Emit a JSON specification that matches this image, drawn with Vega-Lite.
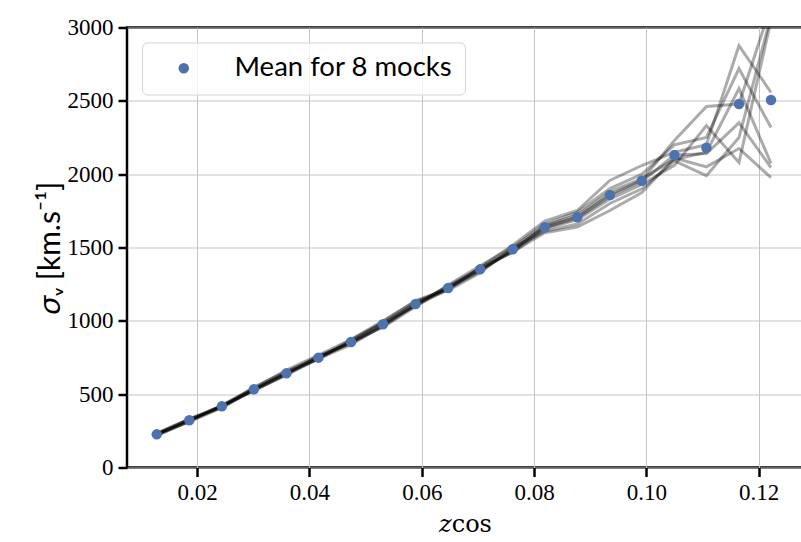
{
  "$schema": "https://vega.github.io/schema/vega-lite/v6.json",
  "width": 676,
  "height": 440,
  "autosize": {"type": "none"},
  "padding": {"left": 127, "top": 27.5, "right": 0, "bottom": 74.5},
  "background": "white",
  "config": {
    "view": {"stroke": "black", "strokeWidth": 2.5},
    "axis": {
      "domain": false,
      "grid": true,
      "gridColor": "#c4c4c4",
      "gridWidth": 1,
      "ticks": true,
      "tickColor": "black",
      "tickWidth": 2.5,
      "tickSize": 9,
      "labelColor": "black",
      "labelFont": "Liberation Serif",
      "labelFontSize": 23,
      "labelPadding": 5,
      "titleColor": "black",
      "titleFontWeight": "normal"
    }
  },
  "datasets": {
    "mocks": [
      {"mock": "1", "z": 0.0128, "sigma": 232}, {"mock": "1", "z": 0.0186, "sigma": 328}, {"mock": "1", "z": 0.0244, "sigma": 412}, {"mock": "1", "z": 0.0301, "sigma": 548}, {"mock": "1", "z": 0.0359, "sigma": 656}, {"mock": "1", "z": 0.0416, "sigma": 744}, {"mock": "1", "z": 0.0474, "sigma": 872}, {"mock": "1", "z": 0.0531, "sigma": 1000}, {"mock": "1", "z": 0.0589, "sigma": 1132}, {"mock": "1", "z": 0.0647, "sigma": 1212}, {"mock": "1", "z": 0.0704, "sigma": 1364}, {"mock": "1", "z": 0.0762, "sigma": 1515}, {"mock": "1", "z": 0.0819, "sigma": 1680}, {"mock": "1", "z": 0.0877, "sigma": 1752}, {"mock": "1", "z": 0.0935, "sigma": 1957}, {"mock": "1", "z": 0.0992, "sigma": 2059}, {"mock": "1", "z": 0.1050, "sigma": 2150}, {"mock": "1", "z": 0.1107, "sigma": 2200}, {"mock": "1", "z": 0.1165, "sigma": 2877}, {"mock": "1", "z": 0.1222, "sigma": 2557},
      {"mock": "2", "z": 0.0128, "sigma": 220}, {"mock": "2", "z": 0.0186, "sigma": 316}, {"mock": "2", "z": 0.0244, "sigma": 426}, {"mock": "2", "z": 0.0301, "sigma": 542}, {"mock": "2", "z": 0.0359, "sigma": 664}, {"mock": "2", "z": 0.0416, "sigma": 766}, {"mock": "2", "z": 0.0474, "sigma": 872}, {"mock": "2", "z": 0.0531, "sigma": 985}, {"mock": "2", "z": 0.0589, "sigma": 1102}, {"mock": "2", "z": 0.0647, "sigma": 1244}, {"mock": "2", "z": 0.0704, "sigma": 1376}, {"mock": "2", "z": 0.0762, "sigma": 1502}, {"mock": "2", "z": 0.0819, "sigma": 1660}, {"mock": "2", "z": 0.0877, "sigma": 1740}, {"mock": "2", "z": 0.0935, "sigma": 1902}, {"mock": "2", "z": 0.0992, "sigma": 2000}, {"mock": "2", "z": 0.1050, "sigma": 2200}, {"mock": "2", "z": 0.1107, "sigma": 2250}, {"mock": "2", "z": 0.1165, "sigma": 2720}, {"mock": "2", "z": 0.1222, "sigma": 2318},
      {"mock": "3", "z": 0.0128, "sigma": 228}, {"mock": "3", "z": 0.0186, "sigma": 320}, {"mock": "3", "z": 0.0244, "sigma": 416}, {"mock": "3", "z": 0.0301, "sigma": 526}, {"mock": "3", "z": 0.0359, "sigma": 634}, {"mock": "3", "z": 0.0416, "sigma": 757}, {"mock": "3", "z": 0.0474, "sigma": 850}, {"mock": "3", "z": 0.0531, "sigma": 970}, {"mock": "3", "z": 0.0589, "sigma": 1122}, {"mock": "3", "z": 0.0647, "sigma": 1230}, {"mock": "3", "z": 0.0704, "sigma": 1343}, {"mock": "3", "z": 0.0762, "sigma": 1480}, {"mock": "3", "z": 0.0819, "sigma": 1650}, {"mock": "3", "z": 0.0877, "sigma": 1720}, {"mock": "3", "z": 0.0935, "sigma": 1880}, {"mock": "3", "z": 0.0992, "sigma": 1970}, {"mock": "3", "z": 0.1050, "sigma": 2100}, {"mock": "3", "z": 0.1107, "sigma": 2150}, {"mock": "3", "z": 0.1165, "sigma": 2584}, {"mock": "3", "z": 0.1222, "sigma": 2073},
      {"mock": "4", "z": 0.0128, "sigma": 224}, {"mock": "4", "z": 0.0186, "sigma": 330}, {"mock": "4", "z": 0.0244, "sigma": 420}, {"mock": "4", "z": 0.0301, "sigma": 536}, {"mock": "4", "z": 0.0359, "sigma": 645}, {"mock": "4", "z": 0.0416, "sigma": 738}, {"mock": "4", "z": 0.0474, "sigma": 862}, {"mock": "4", "z": 0.0531, "sigma": 994}, {"mock": "4", "z": 0.0589, "sigma": 1138}, {"mock": "4", "z": 0.0647, "sigma": 1218}, {"mock": "4", "z": 0.0704, "sigma": 1338}, {"mock": "4", "z": 0.0762, "sigma": 1492}, {"mock": "4", "z": 0.0819, "sigma": 1640}, {"mock": "4", "z": 0.0877, "sigma": 1710}, {"mock": "4", "z": 0.0935, "sigma": 1860}, {"mock": "4", "z": 0.0992, "sigma": 1960}, {"mock": "4", "z": 0.1050, "sigma": 2230}, {"mock": "4", "z": 0.1107, "sigma": 2461}, {"mock": "4", "z": 0.1165, "sigma": 2478}, {"mock": "4", "z": 0.1222, "sigma": 3150},
      {"mock": "5", "z": 0.0128, "sigma": 226}, {"mock": "5", "z": 0.0186, "sigma": 324}, {"mock": "5", "z": 0.0244, "sigma": 410}, {"mock": "5", "z": 0.0301, "sigma": 530}, {"mock": "5", "z": 0.0359, "sigma": 638}, {"mock": "5", "z": 0.0416, "sigma": 754}, {"mock": "5", "z": 0.0474, "sigma": 846}, {"mock": "5", "z": 0.0531, "sigma": 964}, {"mock": "5", "z": 0.0589, "sigma": 1110}, {"mock": "5", "z": 0.0647, "sigma": 1238}, {"mock": "5", "z": 0.0704, "sigma": 1356}, {"mock": "5", "z": 0.0762, "sigma": 1476}, {"mock": "5", "z": 0.0819, "sigma": 1635}, {"mock": "5", "z": 0.0877, "sigma": 1700}, {"mock": "5", "z": 0.0935, "sigma": 1850}, {"mock": "5", "z": 0.0992, "sigma": 1950}, {"mock": "5", "z": 0.1050, "sigma": 2130}, {"mock": "5", "z": 0.1107, "sigma": 2140}, {"mock": "5", "z": 0.1165, "sigma": 2350}, {"mock": "5", "z": 0.1222, "sigma": 2045},
      {"mock": "6", "z": 0.0128, "sigma": 218}, {"mock": "6", "z": 0.0186, "sigma": 314}, {"mock": "6", "z": 0.0244, "sigma": 424}, {"mock": "6", "z": 0.0301, "sigma": 524}, {"mock": "6", "z": 0.0359, "sigma": 640}, {"mock": "6", "z": 0.0416, "sigma": 742}, {"mock": "6", "z": 0.0474, "sigma": 858}, {"mock": "6", "z": 0.0531, "sigma": 956}, {"mock": "6", "z": 0.0589, "sigma": 1098}, {"mock": "6", "z": 0.0647, "sigma": 1222}, {"mock": "6", "z": 0.0704, "sigma": 1364}, {"mock": "6", "z": 0.0762, "sigma": 1468}, {"mock": "6", "z": 0.0819, "sigma": 1625}, {"mock": "6", "z": 0.0877, "sigma": 1690}, {"mock": "6", "z": 0.0935, "sigma": 1830}, {"mock": "6", "z": 0.0992, "sigma": 1930}, {"mock": "6", "z": 0.1050, "sigma": 2060}, {"mock": "6", "z": 0.1107, "sigma": 2332}, {"mock": "6", "z": 0.1165, "sigma": 2080}, {"mock": "6", "z": 0.1222, "sigma": 3050},
      {"mock": "7", "z": 0.0128, "sigma": 234}, {"mock": "7", "z": 0.0186, "sigma": 332}, {"mock": "7", "z": 0.0244, "sigma": 418}, {"mock": "7", "z": 0.0301, "sigma": 534}, {"mock": "7", "z": 0.0359, "sigma": 650}, {"mock": "7", "z": 0.0416, "sigma": 760}, {"mock": "7", "z": 0.0474, "sigma": 852}, {"mock": "7", "z": 0.0531, "sigma": 982}, {"mock": "7", "z": 0.0589, "sigma": 1118}, {"mock": "7", "z": 0.0647, "sigma": 1208}, {"mock": "7", "z": 0.0704, "sigma": 1328}, {"mock": "7", "z": 0.0762, "sigma": 1498}, {"mock": "7", "z": 0.0819, "sigma": 1610}, {"mock": "7", "z": 0.0877, "sigma": 1660}, {"mock": "7", "z": 0.0935, "sigma": 1800}, {"mock": "7", "z": 0.0992, "sigma": 1900}, {"mock": "7", "z": 0.1050, "sigma": 2090}, {"mock": "7", "z": 0.1107, "sigma": 1990}, {"mock": "7", "z": 0.1165, "sigma": 2250}, {"mock": "7", "z": 0.1222, "sigma": 3080},
      {"mock": "8", "z": 0.0128, "sigma": 226}, {"mock": "8", "z": 0.0186, "sigma": 312}, {"mock": "8", "z": 0.0244, "sigma": 408}, {"mock": "8", "z": 0.0301, "sigma": 528}, {"mock": "8", "z": 0.0359, "sigma": 630}, {"mock": "8", "z": 0.0416, "sigma": 742}, {"mock": "8", "z": 0.0474, "sigma": 838}, {"mock": "8", "z": 0.0531, "sigma": 968}, {"mock": "8", "z": 0.0589, "sigma": 1104}, {"mock": "8", "z": 0.0647, "sigma": 1228}, {"mock": "8", "z": 0.0704, "sigma": 1348}, {"mock": "8", "z": 0.0762, "sigma": 1470}, {"mock": "8", "z": 0.0819, "sigma": 1600}, {"mock": "8", "z": 0.0877, "sigma": 1640}, {"mock": "8", "z": 0.0935, "sigma": 1752}, {"mock": "8", "z": 0.0992, "sigma": 1875}, {"mock": "8", "z": 0.1050, "sigma": 2110}, {"mock": "8", "z": 0.1107, "sigma": 2050}, {"mock": "8", "z": 0.1165, "sigma": 2175}, {"mock": "8", "z": 0.1222, "sigma": 1977}
    ],
    "mean": [
      {"series": "Mean for 8 mocks", "z": 0.0128, "sigma": 226},
      {"series": "Mean for 8 mocks", "z": 0.0186, "sigma": 322},
      {"series": "Mean for 8 mocks", "z": 0.0244, "sigma": 418},
      {"series": "Mean for 8 mocks", "z": 0.0301, "sigma": 533},
      {"series": "Mean for 8 mocks", "z": 0.0359, "sigma": 642},
      {"series": "Mean for 8 mocks", "z": 0.0416, "sigma": 749},
      {"series": "Mean for 8 mocks", "z": 0.0474, "sigma": 856},
      {"series": "Mean for 8 mocks", "z": 0.0531, "sigma": 977},
      {"series": "Mean for 8 mocks", "z": 0.0589, "sigma": 1115},
      {"series": "Mean for 8 mocks", "z": 0.0647, "sigma": 1224},
      {"series": "Mean for 8 mocks", "z": 0.0704, "sigma": 1351},
      {"series": "Mean for 8 mocks", "z": 0.0762, "sigma": 1488},
      {"series": "Mean for 8 mocks", "z": 0.0819, "sigma": 1638},
      {"series": "Mean for 8 mocks", "z": 0.0877, "sigma": 1706},
      {"series": "Mean for 8 mocks", "z": 0.0935, "sigma": 1858},
      {"series": "Mean for 8 mocks", "z": 0.0992, "sigma": 1955},
      {"series": "Mean for 8 mocks", "z": 0.1050, "sigma": 2131},
      {"series": "Mean for 8 mocks", "z": 0.1107, "sigma": 2180},
      {"series": "Mean for 8 mocks", "z": 0.1165, "sigma": 2478},
      {"series": "Mean for 8 mocks", "z": 0.1222, "sigma": 2506}
    ]
  },
  "encoding": {
    "x": {
      "field": "z",
      "type": "quantitative",
      "scale": {"domain": [0.0075, 0.1279], "nice": false, "zero": false},
      "axis": {
        "values": [0.02, 0.04, 0.06, 0.08, 0.1, 0.12],
        "format": ".2f",
        "title": "𝑧cos",
        "titleFont": "DejaVu Serif",
        "titleFontSize": 24,
        "titlePadding": 8
      }
    },
    "y": {
      "field": "sigma",
      "type": "quantitative",
      "scale": {"domain": [0, 3000], "nice": false},
      "axis": {
        "values": [0, 500, 1000, 1500, 2000, 2500, 3000],
        "format": "d",
        "title": "𝜎ᵥ [km.s⁻¹]",
        "titleFont": "Lato",
        "titleFontSize": 30,
        "titlePadding": 2
      }
    }
  },
  "layer": [
    {
      "data": {"name": "mocks"},
      "mark": {"type": "line", "color": "black", "opacity": 0.33, "strokeWidth": 3, "clip": true},
      "encoding": {"detail": {"field": "mock", "type": "nominal"}}
    },
    {
      "data": {"name": "mean"},
      "mark": {"type": "point", "filled": true, "size": 110, "opacity": 1},
      "encoding": {
        "color": {
          "field": "series",
          "type": "nominal",
          "scale": {"range": ["#4C72B0"]},
          "legend": {
            "title": null,
            "orient": "top-left",
            "offset": 15,
            "padding": 12,
            "fillColor": "rgba(255,255,255,0.8)",
            "strokeColor": "#d4d4d4",
            "cornerRadius": 5,
            "labelFont": "Lato",
            "labelFontSize": 27.5,
            "labelColor": "black",
            "labelLimit": 500,
            "symbolType": "circle",
            "symbolSize": 110,
            "symbolOffset": 16,
            "labelOffset": 37
          }
        }
      }
    }
  ]
}
